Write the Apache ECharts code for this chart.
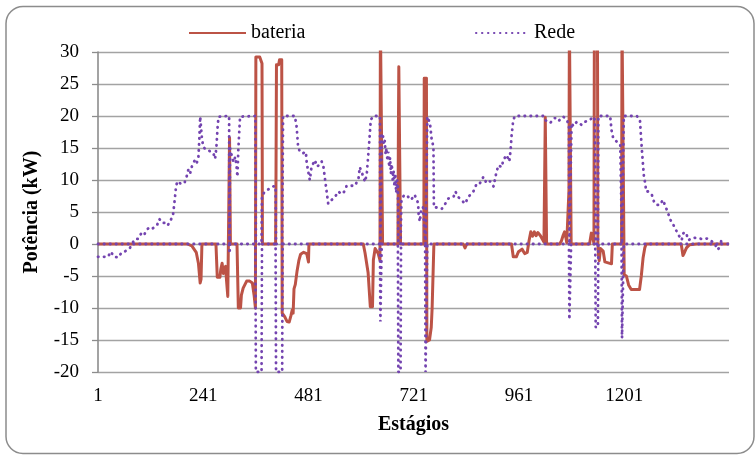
<!DOCTYPE html>
<html>
<head>
<meta charset="utf-8">
<script src="https://cdn.jsdelivr.net/npm/echarts@6/dist/echarts.min.js"></script>
<style>
  html, body { margin: 0; padding: 0; background: #ffffff; }
  #chart { width: 756px; height: 456px; }
</style>
</head>
<body>
<div id="chart"></div>
<script>
// Estágio (1..1440) e potência da bateria (kW)
const bateria = [
  [1,0],[205,0],[215,-0.3],[225,-1.3],[230,-3],[234,-6.1],[236,-5.5],[238,0],
  [270,0],[273,-5.2],[279,-5.2],[281,-4.0],[284,-3.0],[287,-4.6],[289,-4.0],[292,-3.5],[294,-5.6],[297,-8.2],[300,-8.2],[301,16.6],[302,16.6],[303,0],
  [318,0],[321,-10],[326,-10],[328,-8],[332,-6.9],[340,-5.8],[347,-5.8],[353,-6.1],[357,-8],[360,-10],[361,29.2],[370,29.2],[373,28.6],[375,28.2],[376,0],
  [406,0],[407,11.5],[408,28],[413,28],[415,28.8],[420,28.8],[421,-10.8],[427,-11.4],[432,-12.1],[437,-12.2],[441,-11.2],[444,-10.3],[446,-10.8],[448,-7.0],[451,-6.3],[455,-4.2],[459,-2.6],[463,-1.6],[470,-1.3],[477,-1.5],[481,-2.8],[482,0],
  [606,0],[610,-1.4],[617,-4.5],[622,-9.8],[627,-9.8],[629,-2.5],[633,-0.7],[637,-0.9],[640,-1.5],[644,-2.5],[645,35],[649,35],[650,0],
  [685,0],[686,17],[687,27.7],[690,27.7],[691,0],
  [744,0],[745,25.9],[750,25.9],[751,-15.2],[757,-15.0],[761,-13],[763,-10],[765,-10],[767,0],
  [834,0],[838,-0.6],[842,0],
  [944,0],[948,-2.0],[955,-2.0],[960,-1.2],[964,-1.2],[968,-0.8],[974,-1.5],[980,-1.3],[984,0.5],[988,1.9],[992,1.2],[996,1.9],[1000,1.3],[1004,1.8],[1010,1.3],[1014,1.6],[1018,0.3],[1020,0],[1021,19.8],[1023,19.8],[1024,0],
  [1054,0],[1058,0.5],[1062,1.4],[1065,1.9],[1068,1.0],[1070,0.2],[1074,0],[1075,8.4],[1076,35],[1079,35],[1080,0],
  [1122,0],[1126,1.7],[1130,0.9],[1132,0],[1133,35],[1140,35],[1141,0],[1142,-1.5],[1144,-2.6],[1147,-0.7],[1153,-1.1],[1157,-2.8],[1160,-3.0],[1172,-3.1],[1174,0],
  [1195,0],[1196,35],[1200,35],[1201,-4.8],[1206,-5.0],[1211,-6.4],[1217,-7.1],[1236,-7.1],[1240,-5.0],[1244,-2.2],[1248,-0.6],[1251,0],
  [1331,0],[1335,-1.8],[1338,-1.4],[1343,-0.6],[1350,-0.1],[1366,0],[1440,0]
];

// Potência importada da rede (kW)
const rede = [
  [1,0],[78,0],[80,0.2],[86,0.8],[92,0.8],[100,1.7],[106,1.4],[112,2.2],[118,2.6],[124,2.4],[130,2.6],[136,3.0],[141,3.9],[148,3.3],[155,3.3],[160,2.9],[166,3.6],[172,4.5],[176,6.9],[179,9.0],[182,9.8],[190,9.4],[198,9.5],
  [203,10.5],[207,11.6],[211,11.0],[215,12.1],[218,12.6],[222,13.1],[226,12.6],[230,13.6],[232,16.3],[234,19.9],[236,19.6],[238,16.5],[241,15.2],[246,14.8],[252,14.7],[258,14.4],[264,14.2],[268,13.3],[271,15.1],[274,18.5],[276,19.9],
  [300,20],[301,0],[302,15],[306,13.8],[310,12.8],[314,13.6],[317,12.1],[319,10.5],[321,14.7],[323,17.3],[325,19.9],[360,20],[361,0],[374,0],[375,7.6],[382,8.2],[393,8.7],[401,9.0],[406,9.0],[407,0],[421,0],[423,20],
  [450,20],[454,18.3],[457,15.5],[461,14.4],[469,14.2],[475,14.4],[477,12.7],[481,11.1],[484,10.0],[488,12.1],[492,12.4],[496,13.1],[500,12.1],[507,12.4],[511,12.9],[515,12.1],[519,10.0],[522,8.4],[526,6.3],[530,6.1],[534,6.9],[541,7.3],[549,8.2],[557,7.8],[564,8.3],[568,9.1],[576,9.1],[587,9.1],[595,10.2],[598,12.0],[602,11.3],[606,11.0],[610,9.7],[614,11.0],[617,13.6],[620,16.3],[623,19.4],[629,20],
  [644,20],[645,0],[647,0],[648,17.3],[651,16.8],[653,15.5],[655,16.1],[657,14.0],[659,15.0],[661,13.0],[663,14.4],[665,12.0],[667,13.5],[669,11.0],[671,12.5],[673,10.0],[675,11.5],[677,9.0],[679,11.0],[681,8.0],[683,10.0],[685,9.0],[686,0],[691,0],
  [693,7.0],[700,7.7],[708,7.4],[715,6.9],[723,7.7],[727,7.9],[731,6.4],[732,4.8],[735,3.5],[738,5.3],[742,5.8],[746,6.1],[748,0],[751,0],[752,19.9],[758,18.9],[762,16.3],[766,15.2],[767,5.7],[774,5.7],[785,5.5],[793,6.3],[800,7.1],[812,7.4],[816,8.2],[823,7.3],[831,6.8],[838,6.3],[846,7.4],[857,8.2],[865,9.5],[872,9.5],
  [880,10.5],[887,9.5],[895,9.8],[903,9.0],[909,11.0],[914,12.3],[922,12.0],[925,13.1],[933,13.9],[939,12.9],[942,14.7],[944,16.8],[948,19.4],[952,20],[1017,20],[1020,19.4],[1032,18.9],[1043,19.7],[1051,19.2],[1062,19.9],[1070,19.4],[1075,18.6],[1076,0],[1079,0],
  [1081,18.9],[1085,18.4],[1093,19.1],[1104,18.6],[1112,19.1],[1123,19.4],[1131,19.9],[1134,19.4],[1136,0],[1141,0],[1142,20],[1169,20],[1172,17.8],[1176,16.5],[1184,16.0],[1192,15.5],[1195,15.2],[1196,0],[1199,0],[1200,20],[1230,20],
  [1237,19.3],[1241,15.0],[1246,10.5],[1249,9.5],[1251,8.2],[1256,8.2],[1264,7.7],[1269,6.6],[1275,6.1],[1283,6.1],[1289,6.9],[1294,6.1],[1300,5.0],[1307,3.7],[1313,3.0],[1319,2.2],[1325,1.4],[1332,0.6],[1336,1.7],[1342,1.8],[1347,0.6],[1351,0.4],[1359,1.0],[1366,0.9],[1378,0.8],[1385,0.9],[1393,0.8],[1401,0.4],[1408,0],[1420,0],[1423,0.6],[1429,1.0]
];

// Potência injetada na rede (kW, negativa)
const redeInjecao = [
  [1,-2],[15,-2],[24,-2],[30,-1.2],[38,-2],[48,-2.1],[54,-1.4],[64,-1.1],[74,-0.6],[78,0],
  [300,0],[301,-1.5],[302,0],[360,0],[361,-20],[374,-20],[375,0],[406,0],[407,-20],[421,-20],[422,0],
  [644,0],[645,-12.1],[647,-12.1],[648,0],[685,0],[686,-20],[691,-20],[692,0],[747,0],[748,-20],[751,-20],[752,0],
  [1075,0],[1076,-11.8],[1079,-11.8],[1080,0],[1135,0],[1136,-13],[1141,-13],[1142,0],[1195,0],[1196,-14.7],[1199,-14.7],[1200,0],
  [1408,0],[1414,-0.9],[1420,-0.4],[1422,0],[1440,0]
];

const xTicks = [1, 241, 481, 721, 961, 1201];
const yMin = -20, yMax = 30, yStep = 5;

const serif = '"Liberation Serif", "Times New Roman", serif';
const corBateria = '#BC5346';
const corRede = '#7444B0';
const pontilhado = { width: 2.8, type: [0.4, 5.6], cap: 'round', color: corRede };

const legendaBase = {
  top: 18,
  itemHeight: 14, itemGap: 0,
  itemStyle: { opacity: 0 },
  textStyle: { fontFamily: serif, fontSize: 20, color: '#000' }
};

const chart = echarts.init(document.getElementById('chart'), null, { renderer: 'canvas' });
chart.setOption({
  animation: false,
  backgroundColor: '#ffffff',
  textStyle: { fontFamily: serif, color: '#000' },
  graphic: [{
    type: 'rect',
    silent: true,
    z: -10,
    shape: { x: 6, y: 6.5, width: 748, height: 447, r: 17 },
    style: { fill: 'none', stroke: '#8c8c8c', lineWidth: 1.5 }
  }],
  legend: [
    Object.assign({}, legendaBase, { left: 183, itemWidth: 57, data: ['bateria'] }),
    Object.assign({}, legendaBase, { left: 470, itemWidth: 53, data: ['Rede'] })
  ],
  grid: { left: 98, right: 27, top: 52, bottom: 84, containLabel: false },
  xAxis: {
    type: 'value',
    min: 1, max: 1440,
    name: 'Estágios',
    nameLocation: 'middle',
    nameGap: 43,
    nameTextStyle: { fontFamily: serif, fontSize: 20, fontWeight: 'bold', color: '#000' },
    axisLine: { show: false, onZero: false },
    axisTick: { show: false },
    splitLine: { show: false },
    axisLabel: {
      customValues: xTicks,
      formatter: (v) => String(v),
      margin: 15,
      fontFamily: serif, fontSize: 19, color: '#000'
    }
  },
  yAxis: {
    type: 'value',
    min: yMin, max: yMax, interval: yStep,
    name: 'Potência (kW)',
    nameLocation: 'middle',
    nameGap: 56,
    nameRotate: 90,
    nameTextStyle: { fontFamily: serif, fontSize: 20, fontWeight: 'bold', color: '#000' },
    axisLine: { show: true, lineStyle: { color: '#8c8c8c', width: 1.6 } },
    axisTick: { show: true, inside: false, length: 6, lineStyle: { color: '#8c8c8c', width: 1.3 } },
    splitLine: { show: true, lineStyle: { color: '#a3a3a3', width: 1.3 } },
    axisLabel: { margin: 19, fontFamily: serif, fontSize: 19, color: '#000' }
  },
  series: [{
    name: 'bateria',
    type: 'line',
    data: bateria,
    symbol: 'none',
    clip: true,
    z: 2,
    lineStyle: { width: 3, color: corBateria, join: 'round' },
    itemStyle: { color: corBateria }
  }, {
    name: 'Rede',
    type: 'line',
    data: rede,
    symbol: 'none',
    clip: true,
    z: 3,
    lineStyle: pontilhado,
    itemStyle: { color: corRede }
  }, {
    name: 'Rede injeção',
    type: 'line',
    data: redeInjecao,
    symbol: 'none',
    clip: true,
    z: 3,
    lineStyle: pontilhado,
    itemStyle: { color: corRede }
  }]
});
</script>
</body>
</html>
